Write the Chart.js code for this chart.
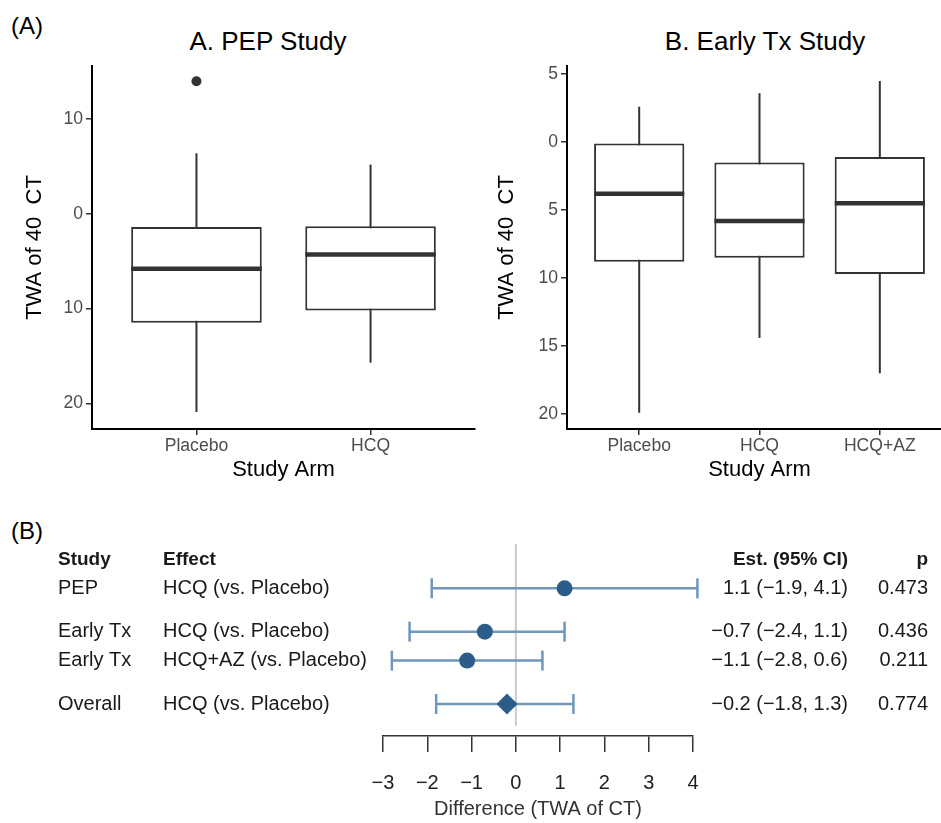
<!DOCTYPE html>
<html>
<head>
<meta charset="utf-8">
<script src="https://cdn.jsdelivr.net/npm/chart.js@4.4.1/dist/chart.umd.min.js"></script>
<style>
body { margin: 0; background: #fff; overflow: hidden; font-family: "Liberation Sans", Arial, sans-serif; }
#page { position: relative; width: 941px; height: 823px; overflow: hidden; }
canvas { position: absolute; }
.lbl { position: absolute; color: #000; white-space: nowrap; line-height: 1.15; }
</style>
</head>
<body>
<div id="page">
  <div class="lbl" style="left:11px;top:12px;font-size:24px;">(A)</div>
  <div class="lbl" style="left:118px;top:27px;width:300px;text-align:center;font-size:26px;">A. PEP Study</div>
  <div class="lbl" style="left:615px;top:27px;width:300px;text-align:center;font-size:26px;">B. Early Tx Study</div>
  <div class="lbl" style="left:11px;top:517px;font-size:24px;">(B)</div>
  <canvas id="boxA" width="480" height="490" style="left:0;top:0"></canvas>
  <canvas id="boxB" width="490" height="490" style="left:470px;top:0"></canvas>
  <canvas id="forest" width="941" height="313" style="left:0;top:510px"></canvas>
</div>
<script>
// --- panel A: PEP study (axis runs downward, minus signs dropped in labels)
const armsA = ['Placebo', 'HCQ'];
const loA = [-6.4, -5.2];
const q1A = [1.4, 1.3];
const medA = [5.8, 4.3];
const q3A = [11.5, 10.2];
const hiA = [20.9, 15.7];
const outA = [-14.0, null];
const ticksA = [-10, 0, 10, 20];

// --- panel B: Early Tx study
const armsB = ['Placebo', 'HCQ', 'HCQ+AZ'];
const loB = [-2.6, -3.6, -4.5];
const q1B = [0.1, 1.5, 1.1];
const medB = [3.8, 5.8, 4.5];
const q3B = [8.8, 8.5, 9.7];
const hiB = [19.9, 14.4, 17.0];
const outB = [null, null, null];
const ticksB = [-5, 0, 5, 10, 15, 20];

// --- forest plot
const studies = ['PEP', 'Early Tx', 'Early Tx', 'Overall'];
const effects = ['HCQ (vs. Placebo)', 'HCQ (vs. Placebo)', 'HCQ+AZ (vs. Placebo)', 'HCQ (vs. Placebo)'];
const est = [1.1, -0.7, -1.1, -0.2];
const ciLo = [-1.9, -2.4, -2.8, -1.8];
const ciHi = [4.1, 1.1, 0.6, 1.3];
const pVals = ['0.473', '0.436', '0.211', '0.774'];
const rowPos = [0, 1.5, 2.5, 4];
const headerPos = -1;
const zeroSpan = [-1.53, 4.75];
const diffTicks = [-3, -2, -1, 0, 1, 2, 3, 4];

Chart.defaults.font.family = '"Liberation Sans", Arial, sans-serif';
Chart.defaults.animation = false;
Chart.defaults.plugins.legend.display = false;
Chart.defaults.plugins.tooltip.enabled = false;

const minus = v => (v < 0 ? '\u2212' : '') + Math.abs(v);
const minus1 = v => (v < 0 ? '\u2212' : '') + Math.abs(v).toFixed(1);

function halfBox(chart) {
  const s = chart.scales.x;
  if (!s) return 0;
  return s.getPixelForValue(1.375) - s.getPixelForValue(1);
}

function boxChart(id, arms, lo, q1, med, q3, hi, out, yMin, yMax, yTicks, yW, padR, titlePad) {
  const outPts = [];
  out.forEach((o, i) => { if (o !== null) outPts.push({x: i + 1, y: o}); });
  return new Chart(document.getElementById(id), {
    type: 'bar',
    data: {
      datasets: [
        {
          type: 'line', showLine: false, order: 0,
          data: med.map((m, i) => ({x: i + 1, y: m})),
          pointStyle: 'line',
          pointRadius: ctx => halfBox(ctx.chart),
          pointHoverRadius: ctx => halfBox(ctx.chart),
          pointBorderColor: '#333', pointBorderWidth: 4.5
        },
        {
          type: 'line', showLine: false, order: 0,
          data: outPts,
          pointRadius: 5, pointBackgroundColor: '#333', pointBorderWidth: 0
        },
        {
          type: 'bar', order: 1,
          data: q1.map((a, i) => ({x: i + 1, y: [a, q3[i]]})),
          backgroundColor: '#fff', borderColor: '#333', borderWidth: 2,
          borderSkipped: false, grouped: false,
          categoryPercentage: 1, barPercentage: 0.75
        },
        {
          type: 'bar', order: 2,
          data: lo.map((a, i) => ({x: i + 1, y: [a, hi[i]]})),
          backgroundColor: '#333', borderWidth: 0, grouped: false, maxBarThickness: 2
        }
      ]
    },
    options: {
      responsive: false,
      events: [],
      layout: {padding: {left: 0, top: 66, right: padR, bottom: 0}},
      scales: {
        x: {
          type: 'linear', min: 0.4, max: arms.length + 0.6, offset: false,
          afterBuildTicks: s => { s.ticks = arms.map((a, i) => ({value: i + 1})); },
          afterFit: s => { s.height = 61; },
          ticks: {callback: v => arms[v - 1], color: '#4d4d4d', font: {size: 17.6}, padding: 1, maxRotation: 0, autoSkip: false},
          grid: {offset: false, drawOnChartArea: false, tickLength: 6, color: '#333', lineWidth: 1.5},
          border: {color: '#000', width: 2},
          title: {display: true, text: 'Study Arm', color: '#000', font: {size: 22}, padding: {top: 0, bottom: 7}}
        },
        y: {
          type: 'linear', reverse: true, min: yMin, max: yMax,
          afterBuildTicks: s => { s.ticks = yTicks.map(v => ({value: v})); },
          afterFit: s => { s.width = yW; },
          ticks: {callback: v => String(Math.abs(v)), color: '#4d4d4d', font: {size: 17.6}, padding: 3},
          grid: {drawOnChartArea: false, tickLength: 6, color: '#333', lineWidth: 1.5},
          border: {color: '#000', width: 2},
          title: {display: true, text: 'TWA of 40  CT', color: '#000', font: {size: 22}, padding: {top: titlePad, bottom: 0}}
        }
      }
    }
  });
}

boxChart('boxA', armsA, loA, q1A, medA, q3A, hiA, outA, -15.6, 22.7, ticksA, 92, 3, 22);
boxChart('boxB', armsB, loB, q1B, medB, q3B, hiB, outB, -5.6, 21.1, ticksB, 97, 8, 24);

// --- forest plot: table text drawn beside the plot, rows placed by the y scale
const forestText = {
  id: 'forestText',
  afterDraw(chart) {
    const ctx = chart.ctx;
    const y = chart.scales.y;
    ctx.save();
    ctx.textBaseline = 'middle';
    ctx.fillStyle = '#1a1a1a';
    const hy = y.getPixelForValue(headerPos);
    ctx.font = 'bold 19px "Liberation Sans", Arial, sans-serif';
    ctx.textAlign = 'left';
    ctx.fillText('Study', 58, hy);
    ctx.fillText('Effect', 163, hy);
    ctx.textAlign = 'right';
    ctx.fillText('Est. (95% CI)', 848, hy);
    ctx.fillText('p', 928, hy);
    ctx.font = '20px "Liberation Sans", Arial, sans-serif';
    rowPos.forEach((r, i) => {
      const py = y.getPixelForValue(r);
      ctx.textAlign = 'left';
      ctx.fillText(studies[i], 58, py);
      ctx.fillText(effects[i], 163, py);
      ctx.textAlign = 'right';
      ctx.fillText(minus1(est[i]) + ' (' + minus1(ciLo[i]) + ', ' + minus1(ciHi[i]) + ')', 848, py);
      ctx.fillText(pVals[i], 928, py);
    });
    ctx.restore();
  }
};

const ciSets = rowPos.map((r, i) => ({
  type: 'line', order: 1, clip: false,
  data: [{x: ciLo[i], y: r}, {x: ciHi[i], y: r}],
  borderColor: '#6f96bb', borderWidth: 2.5,
  pointStyle: 'line', pointRotation: 90, pointRadius: 10,
  pointBorderColor: '#6f96bb', pointBorderWidth: 2.5
}));

new Chart(document.getElementById('forest'), {
  type: 'scatter',
  data: {
    datasets: [
      {
        type: 'scatter', order: 0, clip: false,
        data: est.map((e, i) => ({x: e, y: rowPos[i]})),
        pointStyle: ['circle', 'circle', 'circle', 'rectRot'],
        pointRadius: [8, 8, 8, 10.5],
        pointBackgroundColor: '#2c5d8a', pointBorderWidth: 0
      },
      ...ciSets,
      {
        type: 'line', order: 2, clip: false,
        data: zeroSpan.map(v => ({x: 0, y: v})),
        borderColor: '#cacaca', borderWidth: 2, pointRadius: 0
      }
    ]
  },
  options: {
    responsive: false,
    events: [],
    layout: {padding: {left: 383, right: 248, top: 0, bottom: 0}},
    scales: {
      x: {
        type: 'linear', min: -3, max: 4,
        afterBuildTicks: s => { s.ticks = diffTicks.map(v => ({value: v})); },
        afterFit: s => { s.height = 87; },
        ticks: {callback: v => minus(v), color: '#222', font: {size: 20}, padding: 19, maxRotation: 0},
        grid: {drawOnChartArea: false, tickLength: 16, color: '#333', lineWidth: 1.5},
        border: {color: '#333', width: 1.5},
        title: {display: true, text: 'Difference (TWA of CT)', color: '#333', font: {size: 20}, padding: {top: 0, bottom: 2}}
      },
      y: {type: 'linear', display: false, reverse: true, min: -2.275, max: 5.106}
    }
  },
  plugins: [forestText]
});
</script>
</body>
</html>
